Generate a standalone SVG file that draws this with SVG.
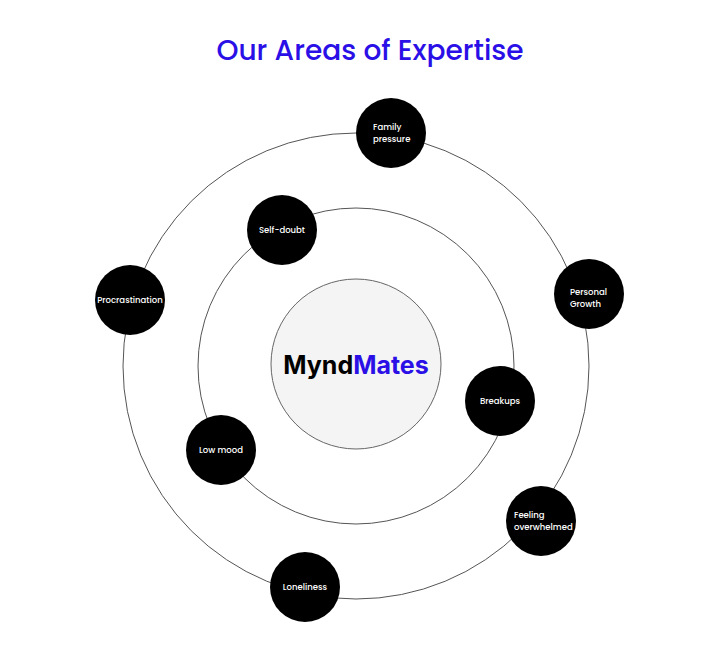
<svg xmlns="http://www.w3.org/2000/svg" width="720" height="654" viewBox="0 0 720 654">
<style>
.n{fill:#000}
.t{fill:#fff;font-family:Poppins,"Open Sans","Noto Sans",sans-serif;font-size:8.5px;font-weight:500}
.o{fill:none;stroke:#555;stroke-width:1}
</style>
<rect width="720" height="654" fill="#fff"/>
<text x="370" y="60" text-anchor="middle" font-family="Poppins,'Open Sans','Noto Sans',sans-serif" font-size="28" font-weight="500" fill="#2a10e6">Our Areas of Expertise</text>
<g id="connectors">
<circle class="o" cx="356" cy="366" r="233"/>
<circle class="o" cx="356" cy="366" r="158"/>
</g>
<g id="center">
<circle cx="356" cy="364" r="85" fill="#f4f4f4" stroke="#666"/>
<text x="356" y="374" text-anchor="middle" font-family="Inter,'Noto Sans',sans-serif" font-size="25" font-weight="700"><tspan fill="#000">Mynd</tspan><tspan fill="#2a10e6">Mates</tspan></text>
</g>
<g id="family"><circle class="n" cx="391" cy="133" r="35"/><text class="t" x="373" y="130">Family</text><text class="t" x="373" y="142">pressure</text></g>
<g id="selfdoubt"><circle class="n" cx="282" cy="230" r="35"/><text class="t" x="282" y="233" text-anchor="middle">Self-doubt</text></g>
<g id="procrastination"><circle class="n" cx="130" cy="300" r="35"/><text class="t" x="130" y="303" text-anchor="middle" font-size="7.5">Procrastination</text></g>
<g id="personal"><circle class="n" cx="589" cy="294" r="35"/><text class="t" x="570" y="295">Personal</text><text class="t" x="570" y="307">Growth</text></g>
<g id="breakups"><circle class="n" cx="500" cy="401" r="35"/><text class="t" x="500" y="404" text-anchor="middle">Breakups</text></g>
<g id="lowmood"><circle class="n" cx="221" cy="450" r="35"/><text class="t" x="221" y="453" text-anchor="middle">Low mood</text></g>
<g id="overwhelmed"><circle class="n" cx="541" cy="521" r="35"/><text class="t" x="514" y="518">Feeling</text><text class="t" x="514" y="530">overwhelmed</text></g>
<g id="loneliness"><circle class="n" cx="305" cy="587" r="35"/><text class="t" x="305" y="590" text-anchor="middle">Loneliness</text></g>
</svg>
